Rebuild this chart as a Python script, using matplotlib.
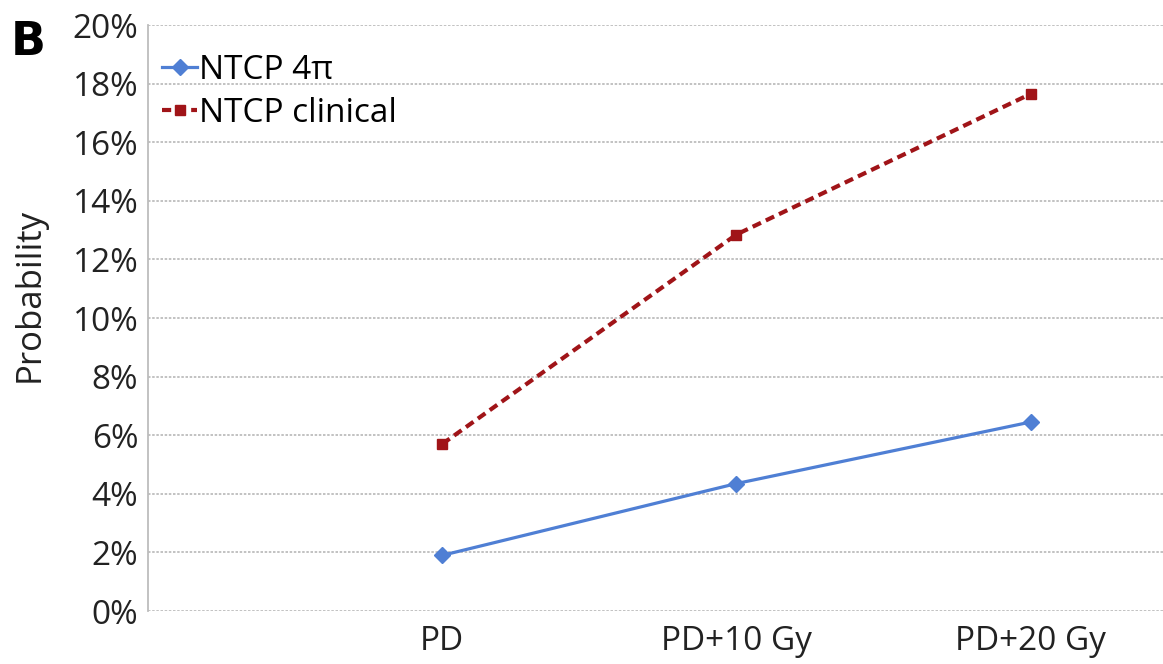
import matplotlib
matplotlib.use("Agg")
import matplotlib.pyplot as plt
from matplotlib.ticker import PercentFormatter

# data
categories = ["PD", "PD+10 Gy", "PD+20 Gy"]
ntcp_4pi = [1.9, 4.35, 6.45]
ntcp_clinical = [5.7, 12.85, 17.65]
yticks = [0, 2, 4, 6, 8, 10, 12, 14, 16, 18, 20]

plt.rcParams['font.family'] = ['Open Sans', 'DejaVu Sans']

fig = plt.figure(figsize=(11.63, 6.64), dpi=100)
ax = fig.add_axes([0.1273, 0.0798, 0.8727, 0.8825])

x = range(len(categories))
ax.plot(x, ntcp_4pi, color="#4f7fd4", lw=2.3, marker="D", markersize=8.5,
        label="NTCP 4\u03c0")
ax.plot(x, ntcp_clinical, color="#a01418", lw=3, ls=(0, (2.2, 1.3)),
        marker="s", markersize=7.5, label="NTCP clinical")

ax.set_xlim(-1, 2.45)
ax.set_ylim(0, 20)
ax.set_yticks(yticks)
ax.yaxis.set_major_formatter(PercentFormatter(decimals=0))
ax.set_xticks(list(x))
ax.set_xticklabels(categories)

ax.grid(axis="y", color="#b8b8b8", ls=(0, (1.5, 1)), lw=1.2)
ax.set_axisbelow(True)
for s in ["top", "right", "bottom"]:
    ax.spines[s].set_visible(False)
ax.spines["left"].set_color("#bdbdbd")
ax.spines["left"].set_linewidth(1.3)
ax.tick_params(length=0, labelsize=24, colors="#222222", pad=7)
ax.tick_params(axis="x", pad=10)

ax.set_ylabel("Probability", fontsize=25, color="#222222")
ax.yaxis.set_label_coords(-0.1, 0.54)

leg = ax.legend(loc="upper left", bbox_to_anchor=(0.014, 0.951), frameon=False,
                fontsize=24, handlelength=1.05, handletextpad=0.05,
                labelspacing=0.3, borderaxespad=0, borderpad=0)

fig.text(0.009, 0.97, "B", fontsize=33, fontweight="bold", va="top",
         ha="left", family="DejaVu Sans")

fig.savefig("out.png", dpi=100)
